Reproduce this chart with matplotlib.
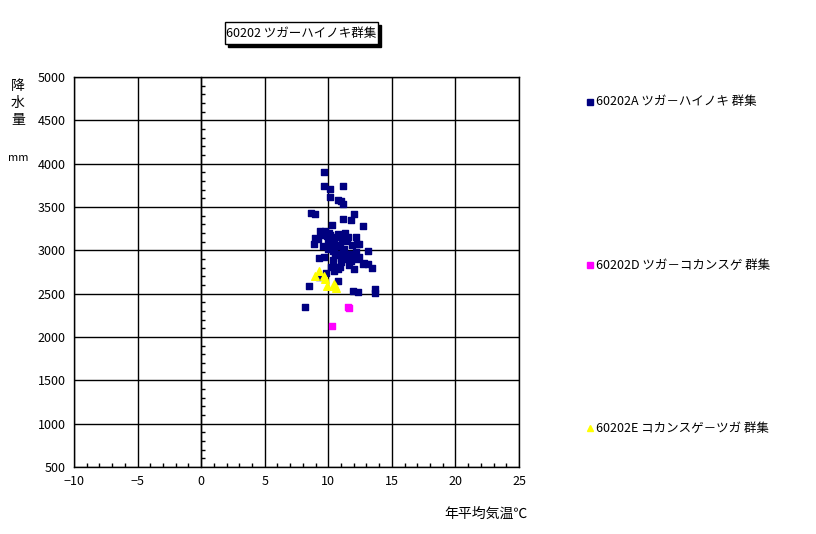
import numpy as np
import matplotlib.pyplot as plt
from matplotlib.patches import Rectangle
from matplotlib.lines import Line2D
from matplotlib.ticker import MultipleLocator

plt.rcParams['font.family'] = ['Noto Sans CJK JP', 'DejaVu Sans']

# datos
titulo = '60202 ツガーハイノキ群集'
etiquetas = ['60202A ツガ－ハイノキ 群集', '60202D ツガ－コカンスゲ 群集', '60202E コカンスゲ－ツガ 群集']

temp_a = [9.64, 9.64, 10.11, 11.13, 10.11, 10.74, 10.98, 11.18, 8.64, 8.96, 12.0, 11.13, 11.76,
          12.7, 10.27, 9.33, 9.72, 10.03, 10.79, 8.93, 9.22, 8.85, 11.52, 11.45, 10.42, 10.66,
          11.84, 12.24, 12.4, 13.1, 10.35, 10.74, 11.13, 11.52, 12.16, 9.27, 9.64, 10.35, 10.98,
          11.45, 12.2, 11.76, 12.7, 13.1, 13.4, 10.19, 10.58, 10.9, 12.0, 9.8, 10.43, 10.74,
          9.3, 8.46, 11.92, 12.31, 13.65, 13.65, 8.14, 9.9, 10.2, 10.0, 10.6, 10.9, 11.2, 10.5,
          11.0, 11.6, 12.4, 12.8, 10.8, 9.6, 9.4, 11.3, 12.2, 10.1, 9.95, 10.45, 11.05, 11.85]
prec_a = [3907, 3746, 3711, 3746, 3619, 3577, 3572, 3538, 3435, 3423, 3423, 3365, 3350,
          3284, 3296, 3227, 3227, 3204, 3192, 3146, 3134, 3077, 3157, 3111, 3100, 3065,
          3065, 3077, 3077, 2996, 2996, 2961, 2980, 2961, 2984, 2915, 2927, 2892, 2915,
          2904, 2904, 2880, 2846, 2846, 2800, 2811, 2811, 2811, 2788, 2742, 2757, 2650,
          2696, 2592, 2534, 2523, 2557, 2511, 2350, 3160, 3120, 3090, 3150, 3050, 3020, 2950,
          2870, 2830, 2920, 2850, 2780, 3050, 3180, 3200, 3150, 3180, 3010, 3030, 3130, 2960]

temp_d = [11.52, 11.6, 10.27]
prec_d = [2350, 2338, 2130]

temp_e = [9.24, 8.93, 9.64, 9.72, 9.87, 10.42, 10.58, 10.5]
prec_e = [2765, 2707, 2707, 2673, 2592, 2615, 2569, 2592]

fig = plt.figure(figsize=(8.16, 5.34), dpi=100)
ax = fig.add_axes([74/816, 1-467/534, 445/816, 390/534])

ax.set_xlim(-10, 25)
ax.set_ylim(500, 5000)
ax.xaxis.set_major_locator(MultipleLocator(5))
ax.xaxis.set_minor_locator(MultipleLocator(1))
ax.yaxis.set_major_locator(MultipleLocator(500))
ax.grid(True, which='major', color='black', lw=1)
ax.set_axisbelow(True)
ax.tick_params(axis='x', which='minor', direction='in', length=3, width=1)
ax.tick_params(axis='both', which='major', length=0, labelsize=9, pad=6)
for s in ax.spines.values():
    s.set_linewidth(1)

# eje y cruzando en x = 0
eje = ax.secondary_yaxis(10/35)
eje.yaxis.set_major_locator(MultipleLocator(500))
eje.yaxis.set_minor_locator(MultipleLocator(100))
eje.tick_params(which='minor', direction='in', length=3, width=1)
eje.tick_params(which='major', length=0, labelleft=False)
eje.spines['left'].set_linewidth(1)

ax.scatter(temp_a, prec_a, marker='s', s=22, color='#000080', zorder=3)
ax.scatter(temp_d, prec_d, marker='s', s=22, color='#FF00FF', zorder=3)
ax.scatter(temp_e, prec_e, marker='^', s=30, color='#FFFF00', zorder=3)

# titulo con sombra
fig.add_artist(Rectangle((228/816, 1-47/534), 153/816, 22/534, facecolor='black',
                         edgecolor='black', transform=fig.transFigure))
fig.add_artist(Rectangle((225/816, 1-44/534), 153/816, 22/534, facecolor='white',
                         edgecolor='black', lw=1, transform=fig.transFigure))
fig.text(301/816, 1-33/534, titulo, ha='center', va='center', fontsize=9)

# leyenda
colores = ['#000080', '#FF00FF', '#FFFF00']
marcas = ['s', 's', '^']
ys = [102, 265, 428]
for lab, c, m, y in zip(etiquetas, colores, marcas, ys):
    fig.add_artist(Line2D([590/816], [1-y/534], marker=m, color=c, markersize=4.5,
                          linestyle='none', transform=fig.transFigure))
    fig.text(596/816, 1-y/534, lab, ha='left', va='center', fontsize=9)

# etiquetas de ejes
fig.text(18/816, 1-103/534, '降\n水\n量', ha='center', va='center', fontsize=10, linespacing=1.3)
fig.text(18/816, 1-158/534, 'mm', ha='center', va='center', fontsize=8)
fig.text(528/816, 1-514/534, '年平均気温℃', ha='right', va='center', fontsize=10)

plt.savefig('out.png', dpi=100)
